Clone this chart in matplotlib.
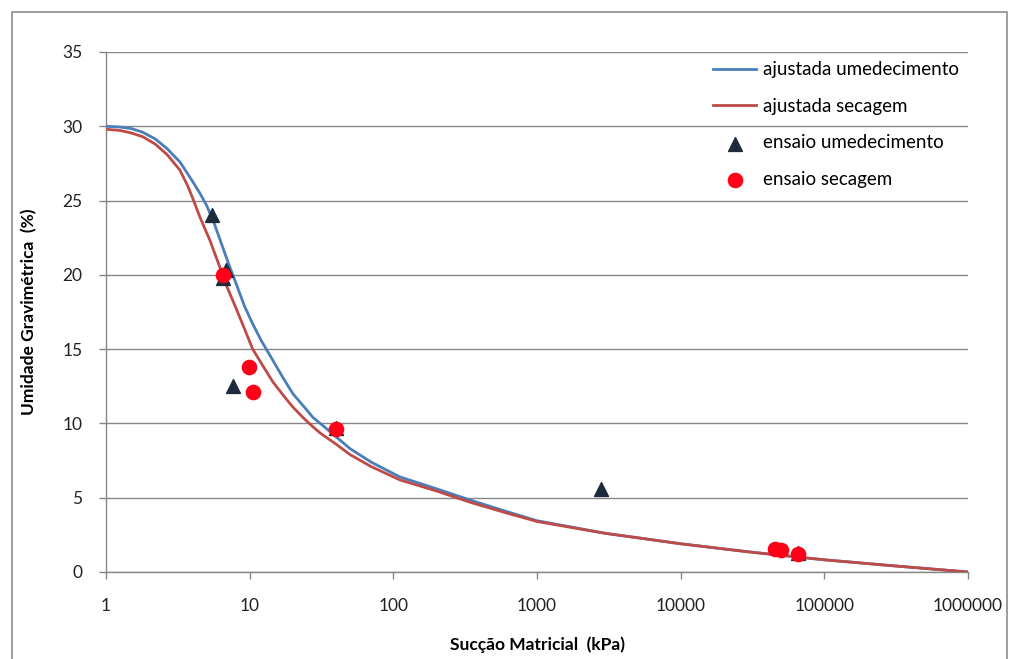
import numpy as np
import matplotlib.pyplot as plt
from matplotlib.patches import Rectangle
from matplotlib.ticker import FixedLocator, FixedFormatter, NullLocator

plt.rcParams['font.family'] = ['Lato', 'DejaVu Sans']

# fitted curves
fit_umed_x = [1, 1.25, 1.5, 1.8, 2.2, 2.66, 3.27, 4.0, 4.5, 5.0, 5.6, 6.2, 7.1, 8.2, 9.2, 10.5, 12,
              14, 17, 20, 24, 27.6, 31, 40, 50, 70, 111, 200, 341, 600, 1000, 1800, 3000, 5500,
              10000, 30000, 100000, 300000, 1000000]
fit_umed_y = [30.0, 29.95, 29.85, 29.6, 29.15, 28.5, 27.6, 26.3, 25.5, 24.7, 23.6, 22.4, 20.8, 19.2,
              17.9, 16.7, 15.6, 14.5, 13.1, 12.0, 11.1, 10.4, 10.0, 9.1, 8.3, 7.4, 6.4, 5.6, 4.85,
              4.1, 3.45, 3.0, 2.6, 2.25, 1.9, 1.35, 0.82, 0.42, 0.0]
fit_sec_x = [1, 1.25, 1.5, 1.8, 2.2, 2.66, 3.27, 3.7, 4.0, 4.5, 5.3, 6.1, 6.95, 8.0, 9.0, 10.5, 12.5,
             14.5, 17.1, 20, 23.5, 27, 31, 40, 50, 70, 111, 200, 341, 600, 1000, 1800, 3000, 5500,
             10000, 30000, 100000, 300000, 1000000]
fit_sec_y = [29.8, 29.72, 29.55, 29.3, 28.8, 28.1, 27.05, 26.0, 25.2, 23.9, 22.3, 20.7, 19.2, 17.8,
             16.6, 15.0, 13.8, 12.8, 11.9, 11.1, 10.4, 9.85, 9.35, 8.6, 7.9, 7.1, 6.2, 5.45, 4.7,
             4.0, 3.4, 2.97, 2.6, 2.25, 1.9, 1.35, 0.82, 0.42, 0.0]

# test points
ens_umed_x = [5.47, 6.84, 6.5, 7.65, 39.9, 2790, 65400]
ens_umed_y = [24.0, 20.3, 19.8, 12.5, 9.7, 5.6, 1.3]
ens_sec_x = [6.5, 9.9, 10.5, 40, 45000, 50000, 65400]
ens_sec_y = [20.0, 13.8, 12.1, 9.6, 1.55, 1.5, 1.2]

xticks = [1, 10, 100, 1000, 10000, 100000, 1000000]
xtick_labels = ['1', '10', '100', '1000', '10000', '100000', '1000000']
yticks = [0, 5, 10, 15, 20, 25, 30, 35]

fig = plt.figure(figsize=(10.16, 6.59), dpi=100)
fig.patches.append(Rectangle((12 / 1016, -0.05), 995 / 1016, 1.05 - 12 / 659,
                             transform=fig.transFigure, fill=False,
                             edgecolor='#8c8c8c', linewidth=1.2))

ax = fig.add_axes([106 / 1016, 1 - 572 / 659, 862 / 1016, 520 / 659])
ax.set_xscale('log')
ax.set_xlim(1, 1000000)
ax.set_ylim(0, 35)

ax.plot(fit_umed_x, fit_umed_y, color='#4a7ebb', lw=2.0, label='ajustada umedecimento', zorder=3)
ax.plot(fit_sec_x, fit_sec_y, color='#be4b48', lw=2.0, label='ajustada secagem', zorder=3)
ax.scatter(ens_umed_x, ens_umed_y, marker='^', s=100, color='#1f2b3d',
           label='ensaio umedecimento', zorder=4)
ax.scatter(ens_sec_x, ens_sec_y, marker='o', s=105, color='#ff0019',
           label='ensaio secagem', zorder=5)

ax.xaxis.set_major_locator(FixedLocator(xticks))
ax.xaxis.set_major_formatter(FixedFormatter(xtick_labels))
ax.xaxis.set_minor_locator(NullLocator())
ax.set_yticks(yticks)
ax.yaxis.grid(True, color='#868686', lw=1)
ax.set_axisbelow(True)
for s in ['top', 'right']:
    ax.spines[s].set_visible(False)
for s in ['left', 'bottom']:
    ax.spines[s].set_color('#868686')
    ax.spines[s].set_linewidth(1)
ax.tick_params(axis='both', colors='#868686', labelcolor='#222222', labelsize=12.5,
               length=5, width=1)
ax.tick_params(axis='x', pad=14)
ax.tick_params(axis='y', pad=12)

ax.set_xlabel('Sucção Matricial  (kPa)', fontsize=12.5, fontweight='bold', labelpad=16)
ax.set_ylabel('Umidade Gravimétrica  (%)', fontsize=12.5, fontweight='bold', labelpad=18)

ax.legend(loc='upper left', bbox_to_anchor=(0.685, 1.015), frameon=False, fontsize=13.5,
          labelspacing=1.05, handlelength=2.3, handletextpad=0.35, scatterpoints=1)

fig.savefig('out.png', dpi=100)
